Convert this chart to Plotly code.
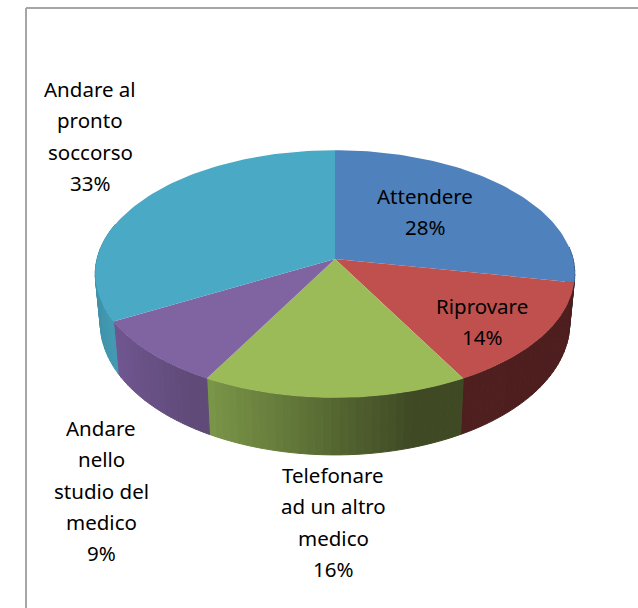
import math
import plotly.graph_objects as go

categories = ["Attendere", "Riprovare", "Telefonare ad un altro medico",
              "Andare nello studio del medico", "Andare al pronto soccorso"]
values = [28, 14, 16, 9, 33]
top_colors = ["#4f81bd", "#c0504d", "#9bbb59", "#8064a2", "#4aa9c4"]
side_left = ["#3c5f8c", "#4f1f1f", "#7a9648", "#705690", "#3f93aa"]
side_right = ["#33527a", "#4e1e1e", "#3f4a24", "#5f4a78", "#429ab2"]
label_lines = [["Attendere"], ["Riprovare"], ["Telefonare", "ad un altro", "medico"],
               ["Andare", "nello", "studio del", "medico"], ["Andare al", "pronto", "soccorso"]]
label_x = [425, 482, 333, 101, 90]
label_y = [196, 306, 475, 428, 89]
line_step = 31.3

CX, CY, A, B, K = 335, 259, 238, 122, 0.121
CY2, A2, B2 = 307, 233, 130


def rim(theta, cy, a, b):
    s = 1 / (1 + K * math.cos(theta))
    return CX + a * math.sin(theta) * s, cy - b * math.cos(theta) * s


def arc(t0, t1, cy, a, b, n):
    return [rim(t0 + (t1 - t0) * i / n, cy, a, b) for i in range(n + 1)]


def mix(c0, c1, f):
    p = [int(c0[i:i + 2], 16) for i in (1, 3, 5)]
    q = [int(c1[i:i + 2], 16) for i in (1, 3, 5)]
    return "rgb(%d,%d,%d)" % tuple(round(u + (v - u) * f) for u, v in zip(p, q))


total = sum(values)
bounds = [0]
for v in values:
    bounds.append(bounds[-1] + v / total * 2 * math.pi)

fig = go.Figure()


def poly(pts, color, lw=0):
    xs = [p[0] for p in pts] + [pts[0][0]]
    ys = [p[1] for p in pts] + [pts[0][1]]
    fig.add_trace(go.Scatter(x=xs, y=ys, mode="lines", fill="toself", fillcolor=color,
                             line=dict(color=color, width=lw), hoverinfo="skip", showlegend=False))


# outer wall, drawn as narrow strips whose shade runs left to right across each slice
for i in range(len(values)):
    t0, t1 = bounds[i], bounds[i + 1]
    lo, hi = max(t0, math.pi / 2 - 0.1), min(t1, 3 * math.pi / 2 + 0.3)
    if hi <= lo:
        continue
    n = max(2, int((hi - lo) / 0.03))
    xs_all = [rim(lo + (hi - lo) * j / n, CY, A, B)[0] for j in range(n + 1)]
    xmin, xmax = min(xs_all), max(xs_all)
    for j in range(n):
        a0 = lo + (hi - lo) * j / n
        a1 = lo + (hi - lo) * (j + 1) / n
        xm = rim((a0 + a1) / 2, CY, A, B)[0]
        f = min(1.0, 1.25 * (xm - xmin) / (xmax - xmin))
        pts = arc(a0, a1, CY, A, B, 1) + arc(a1, a0, CY2, A2, B2, 1)
        poly(pts, mix(side_left[i], side_right[i], f), 1)

# top faces
for i in range(len(values)):
    pts = [(CX, CY)] + arc(bounds[i], bounds[i + 1], CY, A, B, 80)
    poly(pts, top_colors[i])

# labels
annotations = []
for i, lines in enumerate(label_lines):
    rows = lines + ["%d%%" % values[i]]
    for r, t in enumerate(rows):
        annotations.append(dict(x=label_x[i], y=label_y[i] + r * line_step, text=t, showarrow=False,
                                xref="x", yref="y", xanchor="center", yanchor="middle",
                                font=dict(family="Noto Sans", size=20.5, color="#000000")))

fig.update_layout(
    width=638, height=608, margin=dict(l=0, r=0, t=0, b=0),
    paper_bgcolor="#ffffff", plot_bgcolor="#ffffff", showlegend=False,
    xaxis=dict(range=[0, 638], visible=False, fixedrange=True),
    yaxis=dict(range=[608, 0], visible=False, fixedrange=True),
    annotations=annotations,
    shapes=[
        dict(type="line", xref="x", yref="y", x0=26, x1=26, y0=8, y1=608, line=dict(color="#a6a6a6", width=2)),
        dict(type="line", xref="x", yref="y", x0=26, x1=638, y0=8, y1=8, line=dict(color="#a6a6a6", width=2)),
    ],
)
fig.write_html("out.html", config=dict(displayModeBar=False),
               post_script="document.body.style.margin='0';")
